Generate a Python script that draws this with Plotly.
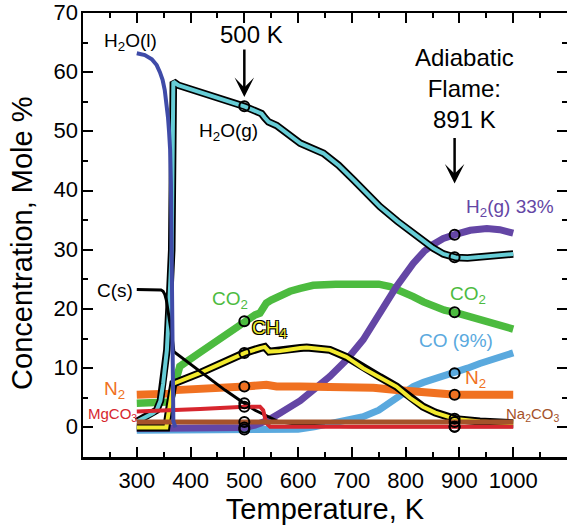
import numpy as np
import plotly.graph_objects as go

# ---------------- data (Temperature K, Concentration mole %) ----------------
h2ol_T = [300, 315, 328, 337, 343, 348, 352, 355, 358, 360, 362, 363.5, 365, 366.5, 368, 372]
h2ol_v = [63.2, 62.9, 62.2, 61.2, 60.0, 58.7, 57.0, 55.2, 52.4, 50.0, 46.9, 41.3, 30.0, 12.0, 1.0, 0.0]

h2og_T = [300, 318, 330, 337, 344, 349, 353, 356, 361, 365, 368, 377, 501, 525, 532, 538,
          545, 560, 604, 647, 675, 703, 752, 785, 814, 835, 851, 870, 893, 915, 938, 1000]
h2og_v = [1.0, 1.8, 2.4, 2.9, 4.5, 7.4, 10.0, 13.1, 22.0, 30.0, 58.4, 57.8, 54.2, 53.4,
          53.0, 52.3, 51.6, 51.0, 48.0, 46.3, 44.3, 41.8, 37.3, 34.8, 32.8, 31.3, 30.3,
          29.3, 28.7, 28.6, 28.8, 29.3]

cs_T = [300, 345, 349, 352, 355, 358, 362, 366, 369, 418, 464, 501, 520, 545, 563, 585,
        604, 650, 700, 1000]
cs_v = [23.3, 23.2, 23.0, 22.5, 21.5, 19.8, 17.6, 15.0, 12.8, 9.5, 6.3, 4.0, 2.9, 1.8,
        1.0, 0.7, 0.5, 0.2, 0.1, 0.1]

co2_T = [300, 355, 362, 368, 374, 380, 418, 460, 501, 520, 529, 535, 541, 550, 566, 585,
         604, 628, 670, 721, 750, 771, 793, 814, 833, 851, 872, 893, 938, 1000]
co2_v = [4.1, 4.1, 4.3, 6.5, 8.6, 10.3, 12.7, 15.4, 18.0, 19.0, 19.3, 20.0, 21.0, 21.5,
         22.2, 23.0, 23.5, 24.0, 24.2, 24.3, 24.2, 23.8, 23.1, 22.1, 21.2, 20.4, 19.8,
         19.4, 18.1, 16.6]

ch4_T = [300, 355, 359, 364, 368, 418, 460, 501, 529, 538, 546, 566, 604, 616, 659, 690,
         721, 752, 783, 808, 832, 855, 876, 893, 938, 1000]
ch4_v = [0.0, 0.0, 2.4, 5.0, 7.4, 9.2, 11.0, 12.6, 13.4, 13.6, 12.8, 12.9, 13.4, 13.5,
         13.1, 11.9, 10.0, 8.5, 6.9, 5.0, 3.5, 2.5, 1.8, 1.4, 1.0, 0.7]

h2_T = [300, 480, 501, 520, 544, 566, 604, 659, 690, 721, 752, 783, 814, 835, 851, 870,
        893, 920, 951, 975, 1000]
h2_v = [-0.2, -0.2, 0.0, 0.4, 1.2, 2.4, 4.5, 8.6, 11.4, 14.8, 19.3, 23.8, 27.7, 29.8,
        30.9, 31.9, 32.6, 33.3, 33.6, 33.4, 32.8]

co_T = [300, 600, 630, 659, 690, 721, 750, 771, 793, 814, 833, 851, 872, 893, 915, 938,
        970, 1000]
co_v = [-0.5, -0.3, 0.1, 0.7, 1.1, 1.8, 2.9, 4.1, 5.5, 6.9, 7.6, 8.1, 8.7, 9.2, 10.0,
        10.8, 11.8, 12.6]

n2_T = [300, 360, 372, 418, 501, 541, 560, 604, 690, 740, 783, 840, 893, 1000]
n2_v = [5.5, 5.7, 6.3, 6.4, 6.9, 7.2, 6.9, 6.9, 6.9, 6.7, 6.3, 5.8, 5.5, 5.5]

mgco3_T = [300, 368, 418, 501, 529, 535, 541, 548, 1000]
mgco3_v = [2.7, 2.9, 3.1, 3.5, 3.5, 2.9, 0.7, 0.1, 0.1]

na2co3_T = [300, 1000]
na2co3_v = [0.9, 0.9]

marker_temps = [500, 891]

x_ticks = [300, 400, 500, 600, 700, 800, 900, 1000]
y_ticks = [0, 10, 20, 30, 40, 50, 60, 70]

# ---------------- styles ----------------
FONT = "Liberation Sans, Arial, Helvetica, sans-serif"
C_H2OL = "#3F4BA8"
C_H2OG = "#66CDD6"
C_CO2 = "#4CBB3F"
C_CH4 = "#F2EA2E"
C_H2 = "#6446A5"
C_CO = "#5AA9DE"
C_N2 = "#F07121"
C_MG = "#D7262E"
C_NA = "#A5522A"

fig = go.Figure()


def line(T, v, color, width):
    fig.add_trace(go.Scatter(x=T, y=v, mode="lines", hoverinfo="skip",
                             line=dict(color=color, width=width),
                             showlegend=False))


line(co_T, co_v, C_CO, 7)
line(co2_T, co2_v, C_CO2, 7.5)
line(h2_T, h2_v, C_H2, 7)
line(n2_T, n2_v, C_N2, 8)
line(ch4_T, ch4_v, "black", 8)
line(ch4_T, ch4_v, C_CH4, 4)
line(h2og_T, h2og_v, "black", 7.5)
line(h2og_T, h2og_v, C_H2OG, 4)
line(cs_T, cs_v, "black", 3)
line(mgco3_T, mgco3_v, C_MG, 4)
line(na2co3_T, na2co3_v, C_NA, 5)
line(h2ol_T, h2ol_v, C_H2OL, 4)

# circles at 500 K and at the adiabatic flame temperature
series = [(h2og_T, h2og_v), (cs_T, cs_v), (co2_T, co2_v), (ch4_T, ch4_v), (h2_T, h2_v),
          (co_T, co_v), (n2_T, n2_v), (mgco3_T, mgco3_v), (na2co3_T, na2co3_v)]
mx, my = [], []
for t in marker_temps:
    for T, v in series:
        mx.append(t)
        my.append(float(np.interp(t, T, v)))
fig.add_trace(go.Scatter(x=mx, y=my, mode="markers", yaxis="y2", hoverinfo="skip",
                         marker=dict(symbol="circle-open", size=10, color="black",
                                     line=dict(width=2)),
                         showlegend=False))

axis_common = dict(showgrid=False, zeroline=False, ticks="inside", ticklen=10,
                   tickwidth=2, tickcolor="black", automargin=False,
                   ticklabeloverflow="allow",
                   tickfont=dict(family=FONT, size=22, color="black"))

fig.update_layout(
    width=567, height=529,
    margin=dict(l=83, r=0, t=13, b=72, autoexpand=False),
    paper_bgcolor="white", plot_bgcolor="white",
    showlegend=False,
    xaxis=dict(range=[200, 1100], tickvals=x_ticks, showline=True, linewidth=2.5,
               linecolor="black", mirror="ticks",
               minor=dict(ticks="inside", ticklen=5, tickwidth=2, dtick=50, tick0=200,
                          tickcolor="black"),
               ticklabelstandoff=2,
               title=dict(text="Temperature, K", font=dict(family=FONT, size=29,
                                                           color="black"), standoff=2),
               **axis_common),
    yaxis=dict(range=[-5, 70], tickvals=y_ticks, showline=True, linewidth=2.5,
               linecolor="black",
               minor=dict(ticks="inside", ticklen=5, tickwidth=2, dtick=5, tick0=-5,
                          tickcolor="black"),
               ticklabelstandoff=-2, ticklabelshift=-1,
               **axis_common),
    yaxis2=dict(range=[-5, 70], overlaying="y", side="right", showline=False,
                showgrid=False, zeroline=False, showticklabels=False, automargin=False,
                tickvals=y_ticks, ticks="inside", ticklen=10, tickwidth=2,
                tickcolor="black",
                minor=dict(ticks="inside", ticklen=5, tickwidth=2, dtick=5, tick0=-5,
                           tickcolor="black")),
)


def label(text, x, y, color="black", size=19, **kw):
    fig.add_annotation(x=x, y=y, text=text, showarrow=False, xref="x", yref="y",
                       font=dict(family=FONT, size=size, color=color, **kw),
                       xanchor="center", yanchor="middle")


label("H<sub>2</sub>O(l)", 289, 65.1)
label("H<sub>2</sub>O(g)", 470, 49.9)
label("500 K", 514, 66.3, size=24)
label("Adiabatic<br>Flame:<br>891 K", 910, 57.3, size=24)
label("H<sub>2</sub>(g) 33%", 994, 37.1, color=C_H2)
label("C(s)", 259, 23.2)
label("CO<sub>2</sub>", 473, 21.6, color=C_CO2)
label("CH<sub>4</sub>", 546, 16.6, color=C_CH4,
      shadow="1px 1px 0 #000, -1px -1px 0 #000, 1px -1px 0 #000, -1px 1px 0 #000")
label("CO<sub>2</sub>", 916, 22.3, color=C_CO2)
label("CO (9%)", 894, 14.6, color=C_CO)
label("N<sub>2</sub>", 929, 8.2, color=C_N2)
label("N<sub>2</sub>", 259, 6.4, color=C_N2)
label("MgCO<sub>3</sub>", 255, 2.2, color=C_MG, size=15)
label("Na<sub>2</sub>CO<sub>3</sub>", 1036, 2.2, color=C_NA, size=15)

# arrows
fig.add_annotation(x=500, y=55.8, ax=0, ay=-49, text="", showarrow=True,
                   arrowhead=3, arrowsize=1.3, arrowwidth=2.5, arrowcolor="black")
fig.add_annotation(x=891, y=41.2, ax=0, ay=-47, text="", showarrow=True,
                   arrowhead=3, arrowsize=1.3, arrowwidth=2.5, arrowcolor="black")

# y-axis title
fig.add_annotation(text="Concentration, Mole %", xref="paper", yref="paper",
                   x=-0.126, y=0.48, textangle=-90, showarrow=False,
                   xanchor="center", yanchor="middle",
                   font=dict(family=FONT, size=29, color="black"))

# remove the default page margin so the 567x529 figure fills the window exactly
fig.write_html("out.html",
               config={"displayModeBar": False, "staticPlot": True},
               post_script="document.body.style.margin='0';"
                           "document.body.style.overflow='hidden';")
